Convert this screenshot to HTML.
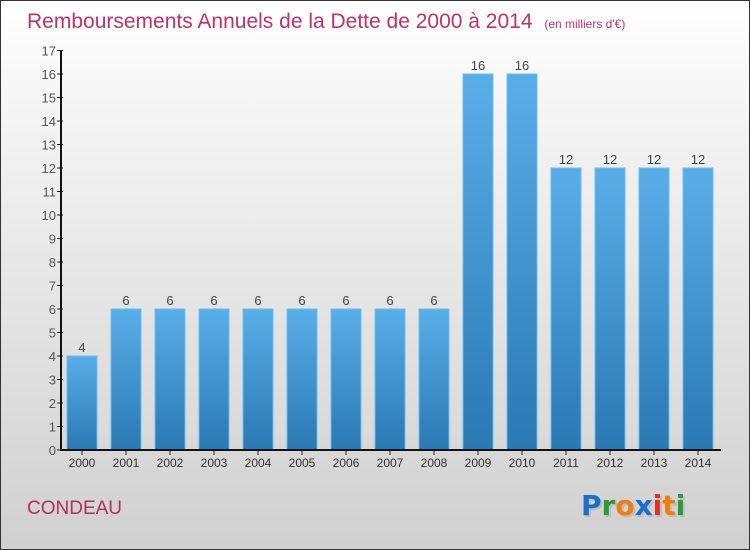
<!DOCTYPE html>
<html><head><meta charset="utf-8"><style>
body{margin:0}
#c{width:748px;height:548px;border:1px solid #333;background:linear-gradient(#ffffff,#f2f2f2 25%,#d0d0d0);position:relative;overflow:hidden;font-family:"Liberation Sans",sans-serif}
</style></head><body>
<div id="c">
<svg width="748" height="548" id="s">
<defs><linearGradient id="g" x1="0" y1="0" x2="0" y2="1"><stop offset="0" stop-color="#5aaee8"/><stop offset="1" stop-color="#2a78b4"/></linearGradient></defs>
<text x="26" y="27" font-size="21" fill="#c0336a">Remboursements Annuels de la Dette de 2000 à 2014 <tspan font-size="12" dx="6">(en milliers d'€)</tspan></text>
<text x="26" y="513" font-size="19" fill="#b0305e">CONDEAU</text>
<g font-size="28" font-weight="bold" font-family="DejaVu Sans, sans-serif">
<text x="582" y="516" fill="#aaa" opacity="0.5">Proxiti</text>
<text x="580" y="514"><tspan fill="#1a6fc8">P</tspan><tspan fill="#2a9a3a">r</tspan><tspan fill="#f07d10">o</tspan><tspan fill="#1a6fc8">x</tspan><tspan fill="#e03020">i</tspan><tspan fill="#f07d10">t</tspan><tspan fill="#2a9a3a">i</tspan></text>
</g>
<g id="plot"></g>
</svg></div>
<script>
const categories=["2000","2001","2002","2003","2004","2005","2006","2007","2008","2009","2010","2011","2012","2013","2014"];
const values=[4,6,6,6,6,6,6,6,6,16,16,12,12,12,12];
const yTicks=[0,1,2,3,4,5,6,7,8,9,10,11,12,13,14,15,16,17];
const NS="http://www.w3.org/2000/svg";
const p=document.getElementById('plot');
const y0=449,yTop=49.5,yMax=17;
const y=v=>y0-(y0-yTop)*v/yMax;
const x=i=>81+i*44;
function mk(t,a,par){const e=document.createElementNS(NS,t);for(const k in a)e.setAttribute(k,a[k]);(par||p).appendChild(e);return e;}
yTicks.forEach(v=>{
 const l=mk('line',{x1:56,x2:62,y1:y(v),y2:y(v),stroke:'#222'});
 
 
 const t=mk('text',{x:55,y:y(v)+5,'text-anchor':'end','font-size':13,fill:'#555'});t.textContent=v;
 
 
});
values.forEach((v,i)=>{
 const r=mk('rect',{x:x(i)-15,y:y(v),width:30,height:y0-y(v),fill:'url(#g)',stroke:'#6cbcf0','stroke-width':1});
 
 
 const t=mk('text',{x:x(i),y:y(v)-4,'text-anchor':'middle','font-size':13,fill:'#444'});t.textContent=v;
 
 
 const tk=mk('line',{x1:x(i),x2:x(i),y1:y0,y2:y0+5,stroke:'#222'});
 
 
 const c=mk('text',{x:x(i),y:y0+17,'text-anchor':'middle','font-size':12,fill:'#333'});c.textContent=categories[i];
 
 
});
const ya=mk('line',{x1:60,x2:60,y1:yTop,y2:y0+1,stroke:'#111','stroke-width':2});


const xa=mk('line',{x1:59,x2:720,y1:y0,y2:y0,stroke:'#111','stroke-width':2});


</script>
</body></html>
